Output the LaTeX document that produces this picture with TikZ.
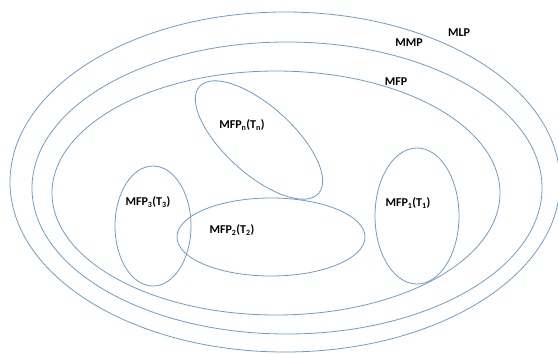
\documentclass[tikz,border=0pt]{standalone}
\usepackage{fontspec}
\setmainfont{Carlito}
\usetikzlibrary{shapes.geometric}
\definecolor{setblue}{RGB}{110,155,206}

\begin{document}
\begin{tikzpicture}[x=1pt,y=-1pt]
%[set/.style={ellipse,draw=setblue,line width=0.8pt}]
\tikzstyle{every node}=[font=\bfseries\fontsize{12}{14}\selectfont]
\tikzstyle{set}=[ellipse,draw=setblue,line width=0.8pt,inner sep=0pt]

\useasboundingbox (0,0) rectangle (558,354);

% the three big sets
\node[set, minimum width=550pt, minimum height=340pt] at (285, 182) (mlp) {};
\node[set, minimum width=510pt, minimum height=292pt] at (287, 188) (mmp) {};
\node[set, minimum width=448pt, minimum height=244pt] at (276, 193) (mfp) {};

% the task sets
\node[set, minimum width=160pt, minimum height=68pt, rotate=-42] at (259, 140) (mfpn) {};
\node[set, minimum width=76pt, minimum height=120pt] at (153, 226) (mfp3) {};
\node[set, minimum width=188pt, minimum height=78pt] at (271, 237) (mfp2) {};
\node[set, minimum width=84pt, minimum height=136pt] at (417, 216) (mfp1) {};

% labels
\node at (459, 33) (lmlp) {MLP};
\node at (409, 43) (lmmp) {MMP};
\node at (396, 82) (lmfp) {MFP};
\node at (242, 125) (lmfpn) {MFP\textsubscript{n}(T\textsubscript{n})};
\node at (148, 202) (lmfp3) {MFP\textsubscript{3}(T\textsubscript{3})};
\node at (232, 230) (lmfp2) {MFP\textsubscript{2}(T\textsubscript{2})};
\node at (408, 203) (lmfp1) {MFP\textsubscript{1}(T\textsubscript{1})};

\end{tikzpicture}
\end{document}
